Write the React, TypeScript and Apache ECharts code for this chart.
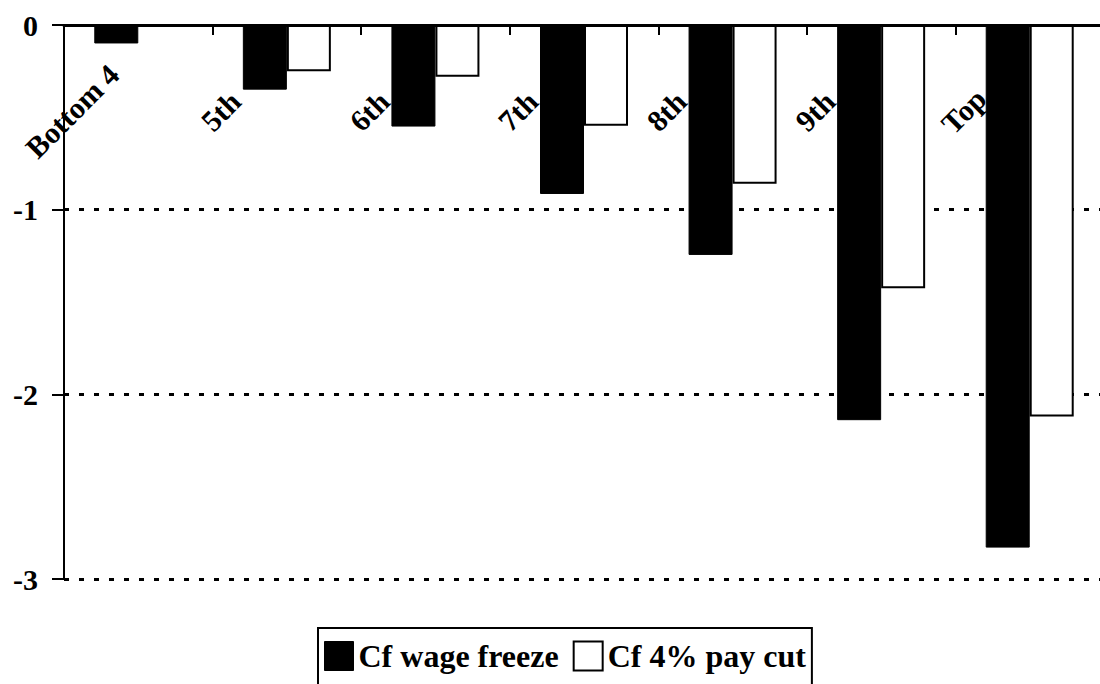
import React, { useEffect, useRef } from "react";
import * as echarts from "echarts";

const categories = ["Bottom 4", "5th", "6th", "7th", "8th", "9th", "Top"];
const wageFreeze = [-0.1, -0.35, -0.55, -0.915, -1.245, -2.14, -2.83];
const payCut = [0, -0.25, -0.28, -0.545, -0.86, -1.425, -2.12];
const seriesNames = ["Cf wage freeze", "Cf 4% pay cut"];
const yTicks = { min: -3, max: 0, interval: 1 };

const FONT = "'Liberation Serif', 'Times New Roman', serif";

export default function App() {
  const ref = useRef<HTMLDivElement>(null);
  useEffect(() => {
    if (!ref.current) return;
    const chart = echarts.init(ref.current, undefined, { renderer: "svg" });
    chart.setOption({
      animation: false,
      backgroundColor: "#ffffff",
      grid: { left: 64, top: 25, width: 1040, height: 554, containLabel: false, outerBoundsMode: "none" },
      legend: {
        data: [
          { name: seriesNames[0], icon: "rect", itemStyle: { color: "#000", borderColor: "#000", borderWidth: 1 } },
          { name: seriesNames[1], icon: "rect", itemStyle: { color: "#fff", borderColor: "#000", borderWidth: 2 } },
        ],
        left: 318,
        top: 628,
        itemWidth: 29,
        itemHeight: 29,
        itemGap: 14,
        padding: [12, 6, 30, 6],
        borderColor: "#000",
        borderWidth: 2,
        textStyle: { fontFamily: FONT, fontWeight: 700, fontSize: 32, color: "#000" },
      },
      xAxis: {
        type: "category",
        data: categories,
        position: "bottom",
        offset: -554,
        axisLine: { onZero: false, lineStyle: { color: "#000", width: 3 } },
        axisTick: { show: true, length: 10, lineStyle: { color: "#000", width: 2 } },
        axisLabel: {
          interval: 0,
          rotate: 45,
          align: "center",
          verticalAlign: "middle",
          margin: 20,
          padding: [0, 187, 0, 0],
          fontFamily: FONT,
          fontWeight: 700,
          fontSize: 30,
          color: "#000",
        },
        splitLine: { show: false },
      },
      yAxis: {
        type: "value",
        min: yTicks.min,
        max: yTicks.max,
        interval: yTicks.interval,
        axisLine: { show: true, lineStyle: { color: "#000", width: 2 } },
        axisTick: { show: true, length: 12, lineStyle: { color: "#000", width: 2 } },
        axisLabel: {
          margin: 26,
          fontFamily: FONT,
          fontWeight: 700,
          fontSize: 30,
          color: "#000",
        },
        splitLine: { show: true, lineStyle: { color: "#000", width: 3, type: [5, 10] } },
      },
      series: [
        {
          name: seriesNames[0],
          type: "bar",
          data: wageFreeze,
          barWidth: 44,
          barGap: "0%",
          itemStyle: { color: "#000", borderColor: "#000", borderWidth: 1 },
        },
        {
          name: seriesNames[1],
          type: "bar",
          data: payCut,
          barWidth: 44,
          barGap: "0%",
          itemStyle: { color: "#fff", borderColor: "#000", borderWidth: 2 },
        },
      ],
    });
    return () => chart.dispose();
  }, []);
  return (
    <div
      ref={ref}
      style={{ position: "absolute", left: 0, top: 0, width: 1100, height: 684, background: "#fff" }}
    />
  );
}
